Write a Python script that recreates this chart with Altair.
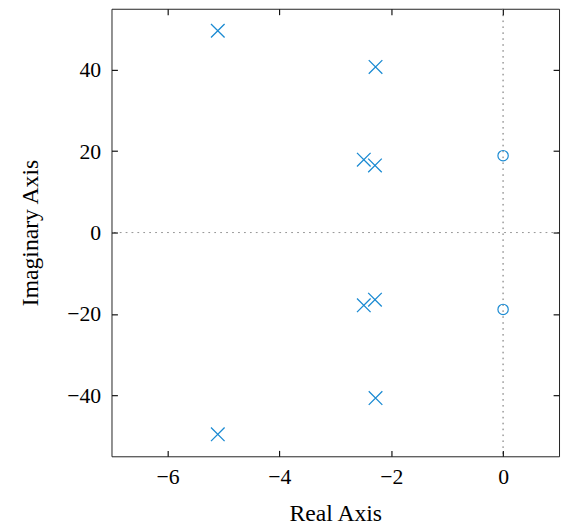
import altair as alt
import pandas as pd

# Poles (crosses) and zeros (circles)
pole_re = [-5.10, -5.10, -2.28, -2.28, -2.49, -2.49, -2.29, -2.29]
pole_im = [49.6, -49.6, 40.7, -40.7, 17.9, -17.9, 16.5, -16.5]
zero_re = [0.0, 0.0]
zero_im = [18.9, -18.9]

x_ticks = [-6, -4, -2, 0]
y_ticks = [-40, -20, 0, 20, 40]
x_domain = [-7, 1]
y_domain = [-55, 55]

poles = pd.DataFrame({"re": pole_re, "im": pole_im})
zeros = pd.DataFrame({"re": zero_re, "im": zero_im})

BLUE = "#1a8ad2"
FONT = "Liberation Serif"
FS = 22
TFS = 24
TICK = 6
TC = "#111"
TW = 1.2

xs = alt.Scale(domain=x_domain, nice=False, zero=False)
ys = alt.Scale(domain=y_domain, nice=False, zero=False)

axis_common = dict(
    grid=False, domain=False, ticks=True, tickColor=TC, tickSize=TICK, tickWidth=TW,
    offset=-TICK, zindex=2,
    labelFont=FONT, labelFontSize=FS, labelColor="#000",
    titleFont=FONT, titleFontSize=TFS, titleFontWeight="normal", titleColor="#000",
)

xaxis_main = alt.Axis(orient="bottom", values=x_ticks, labelPadding=11,
                      title="Real Axis", titlePadding=14, **axis_common)
yaxis_main = alt.Axis(orient="left", values=y_ticks, labelPadding=11,
                      title="Imaginary Axis", titlePadding=25, **axis_common)
xaxis_top = alt.Axis(orient="top", values=x_ticks, labels=False, title=None, zindex=2,
                     grid=False, domain=False, ticks=True, tickColor=TC, tickSize=TICK,
                     tickWidth=TW, offset=-TICK)
yaxis_right = alt.Axis(orient="right", values=y_ticks, labels=False, title=None, zindex=2,
                       grid=False, domain=False, ticks=True, tickColor=TC, tickSize=TICK,
                       tickWidth=TW, offset=-TICK)

vrule = alt.Chart(zeros).mark_rule(color="#999", strokeDash=[1.5, 4.5], strokeWidth=1).encode(
    x=alt.XDatum(0, scale=xs, axis=None)
)
hrule = alt.Chart(zeros).mark_rule(color="#999", strokeDash=[1.5, 4.5], strokeWidth=1).encode(
    y=alt.YDatum(0, scale=ys, axis=None)
)

cross_path = "M-1,-1L1,1M1,-1L-1,1"
pole_layer = alt.Chart(poles).mark_point(
    shape=cross_path, filled=False, color=BLUE, strokeWidth=1.3, size=190, opacity=1
).encode(
    x=alt.X("re:Q", scale=xs, axis=xaxis_main),
    y=alt.Y("im:Q", scale=ys, axis=yaxis_main),
)
zero_layer = alt.Chart(zeros).mark_point(
    shape="circle", filled=False, color=BLUE, strokeWidth=1.2, size=110, opacity=1
).encode(
    x=alt.X("re:Q", scale=xs, axis=xaxis_top),
    y=alt.Y("im:Q", scale=ys, axis=yaxis_right),
)

chart = alt.layer(vrule, hrule, pole_layer, zero_layer).resolve_axis(
    x="independent", y="independent"
).properties(
    width=454, height=454,
    autosize=alt.AutoSizeParams(type="none"),
    padding={"left": 105, "top": -3, "right": 2, "bottom": 72},
).configure_view(stroke="#222", strokeWidth=1)

chart.save("out.html", embed_options={"renderer": "svg", "actions": False})
